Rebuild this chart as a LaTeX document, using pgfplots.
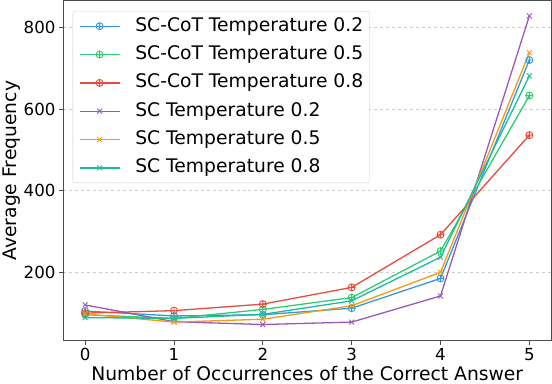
\documentclass[border=0pt]{standalone}
\usepackage{fontspec}
\setmainfont{DejaVu Sans}
\usepackage{pgfplots}
\pgfplotsset{compat=1.18}
\definecolor{cblue}{HTML}{3498DB}
\definecolor{cgreen}{HTML}{2ECC71}
\definecolor{cred}{HTML}{E74C3C}
\definecolor{cpurple}{HTML}{9B59B6}
\definecolor{corange}{HTML}{F39C12}
\definecolor{cteal}{HTML}{1ABC9C}
\begin{document}
\begin{tikzpicture}
\begin{axis}[
  scale only axis, width=488bp, height=340bp,
  xmin=-0.25, xmax=5.25, ymin=32, ymax=866,
  xtick={0,1,2,3,4,5}, ytick={200,400,600,800},
  axis line style={draw=black!70, line width=0.9pt},
  tick style={draw=black!70, line width=0.8pt},
  tick align=outside, major tick length=4bp,
  xtick pos=bottom, ytick pos=left,
  ymajorgrids, major grid style={dashed, gray!40, line width=0.5pt},
  tick label style={font=\fontsize{16.6bp}{19bp}\selectfont},
  /pgf/number format/assume math mode=true,
  label style={font=\fontsize{18.7bp}{22bp}\selectfont},
  xlabel={Number of Occurrences of the Correct Answer},
  ylabel={Average Frequency},
  xlabel style={yshift=2bp},
  ylabel style={yshift=-4bp},
  every axis plot/.append style={line width=1.3pt, mark size=3.5bp, mark options={solid, line width=0.9pt}},
  legend cell align=left,
  legend style={at={(rel axis cs:0.02,0.969)}, anchor=north west,
    draw=black!20, rounded corners=2pt, fill=white,
    font=\fontsize{18.7bp}{22bp}\selectfont,
    nodes={inner sep=0pt, text height=14bp, text depth=4bp},
    row sep=10.3bp, column sep=15bp, inner xsep=6bp, inner ysep=6bp},
  legend image code/.code={
    \draw[mark repeat=2, mark phase=2] plot coordinates {(0bp,0bp) (20bp,0bp) (40bp,0bp)};
  },
]
\addplot[color=cblue, mark=oplus] coordinates {(0,105) (1,93) (2,96) (3,112) (4,185) (5,720)};
\addlegendentry{SC-CoT Temperature 0.2}
\addplot[color=cgreen, mark=oplus] coordinates {(0,96) (1,87) (2,109) (3,138) (4,252) (5,633)};
\addlegendentry{SC-CoT Temperature 0.5}
\addplot[color=cred, mark=oplus] coordinates {(0,100) (1,106) (2,122) (3,163) (4,292) (5,536)};
\addlegendentry{SC-CoT Temperature 0.8}
\addplot[color=cpurple, mark=x] coordinates {(0,120) (1,79) (2,72) (3,78) (4,142) (5,828)};
\addlegendentry{SC Temperature 0.2}
\addplot[color=corange, mark=x] coordinates {(0,98) (1,78) (2,85) (3,118) (4,200) (5,738)};
\addlegendentry{SC Temperature 0.5}
\addplot[color=cteal, mark=x] coordinates {(0,89) (1,87) (2,97) (3,130) (4,237) (5,681)};
\addlegendentry{SC Temperature 0.8}
\end{axis}
\end{tikzpicture}
\end{document}
